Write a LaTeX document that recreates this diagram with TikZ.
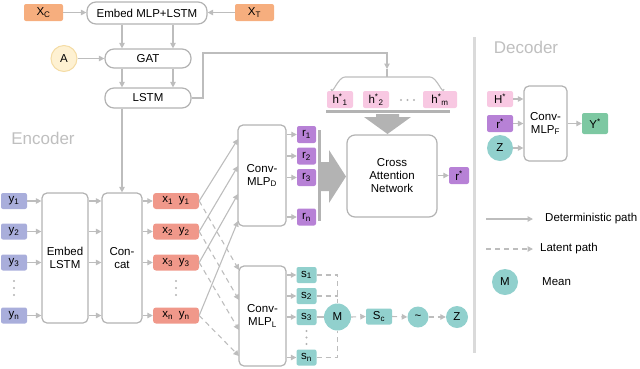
\documentclass[tikz,border=0pt]{standalone}
\usepackage{fontspec}
\setmainfont{Liberation Sans}
\usetikzlibrary{arrows.meta,calc}
\definecolor{lgray}{HTML}{BDBDBD}
\definecolor{bgray}{HTML}{B3B3B3}
\definecolor{sepgray}{HTML}{DADADA}
\definecolor{labgray}{HTML}{BFBFBF}
\definecolor{corange}{HTML}{F6AE7E}
\definecolor{cyellow}{HTML}{FEF1D2}
\definecolor{cyellowb}{HTML}{F4DCA5}
\definecolor{clav}{HTML}{A9AEDB}
\definecolor{csalmon}{HTML}{F0988A}
\definecolor{cpurple}{HTML}{B781D6}
\definecolor{cpink}{HTML}{F8C8E2}
\definecolor{cteal}{HTML}{91D0CD}
\definecolor{cgreen}{HTML}{7DC8A2}
\newcommand\sbs[1]{\textsubscript{#1}}
\newcommand\sps[1]{\textsuperscript{#1}}
\begin{document}
\begin{tikzpicture}[x=1pt,y=-1pt,
  font=\fontsize{11.5}{13}\selectfont,
  arr/.style={draw=lgray, line width=1.1pt, -{Triangle[length=5.5pt,width=5.5pt]}},
  darr/.style={arr, dash pattern=on 5pt off 4pt},
  plainline/.style={draw=lgray, line width=1.1pt},
  dline/.style={plainline, dash pattern=on 5pt off 4pt},
  plainbox/.style={draw=bgray, fill=white, line width=1.2pt, rounded corners=5pt, inner sep=0pt, align=center},
  pill/.style={plainbox, rounded corners=9pt},
  cbox/.style={rounded corners=2pt, inner sep=0pt, minimum height=16pt},
  circ/.style={circle, inner sep=0pt},
  region/.style={text=labgray, font=\fontsize{17}{19}\selectfont},
  bigarrow/.style={fill=bgray},
  dotc/.style={fill=bgray}
]
\useasboundingbox (0,0) rectangle (640,368);

% ---------- top stack ----------
\node[cbox, fill=corange, minimum width=39pt, minimum height=17pt] (xc) at (43.5,12.5) {X\sbs{C}};
\node[pill, minimum width=120pt, minimum height=22pt] (embml) at (147,13) {Embed MLP+LSTM};
\node[cbox, fill=corange, minimum width=39pt, minimum height=17pt] (xt) at (254.5,12.5) {X\sbs{T}};
\node[circ, fill=cyellow, draw=cyellowb, line width=1pt, minimum size=26pt] (a) at (64,58.5) {A};
\node[pill, minimum width=86pt, minimum height=19pt] (gat) at (148,58.5) {GAT};
\node[pill, minimum width=86pt, minimum height=20pt] (lstm) at (148,98) {LSTM};

\coordinate (c1) at (122,0);
\coordinate (c2) at (173,0);
\draw[arr] (xc.east) -- (xc.east -| embml.west);
\draw[arr] (xt.west) -- (xt.west -| embml.east);
\draw[arr] (embml.south -| c1) -- (gat.north -| c1);
\draw[arr] (embml.south -| c2) -- (gat.north -| c2);
\draw[arr] (a.east) -- (gat.west);
\draw[arr] (gat.south -| c1) -- (lstm.north -| c1);
\draw[arr] (gat.south -| c2) -- (lstm.north -| c2);

% ---------- labels ----------
\node[region] (enc) at (43,138.5) {Encoder};
\node[region] (dec) at (526,47) {Decoder};

% ---------- encoder left ----------
\node[cbox, fill=clav, minimum width=26pt] (y1) at (14,201) {y\sbs{1}};
\node[cbox, fill=clav, minimum width=26pt] (y2) at (14,231.5) {y\sbs{2}};
\node[cbox, fill=clav, minimum width=26pt] (y3) at (14,262.5) {y\sbs{3}};
\node[cbox, fill=clav, minimum width=26pt] (yn) at (14,315.5) {y\sbs{n}};
\node[plainbox, minimum width=46pt, minimum height=130pt] (elstm) at (65,258) {Embed\\LSTM};
\node[plainbox, minimum width=40pt, minimum height=130pt] (cat) at (122,258) {Con-\\cat};
\node[cbox, fill=csalmon, minimum width=46pt, rounded corners=3pt] (xy1) at (176,201) {x\sbs{1}\enspace y\sbs{1}};
\node[cbox, fill=csalmon, minimum width=46pt, rounded corners=3pt] (xy2) at (176,231.5) {x\sbs{2}\enspace y\sbs{2}};
\node[cbox, fill=csalmon, minimum width=46pt, rounded corners=3pt] (xy3) at (176,262.5) {x\sbs{3}\enspace y\sbs{3}};
\node[cbox, fill=csalmon, minimum width=46pt, rounded corners=3pt] (xyn) at (176,315.5) {x\sbs{n}\enspace y\sbs{n}};
\foreach \yy in {281,288,295} {
  \fill[dotc] (14,\yy) circle (1.1);
  \fill[dotc] (176,\yy) circle (1.1);
}
\foreach \n in {1,2,3,n} {
  \draw[arr] (y\n.east) -- (y\n.east -| elstm.west);
  \draw[arr] (y\n.east -| elstm.east) -- (y\n.east -| cat.west);
  \draw[arr] (y\n.east -| cat.east) -- (xy\n.west);
}
\draw[arr] (lstm.south -| c1) -- (cat.north -| c1);

% ---------- Conv-MLP D / L ----------
\node[plainbox, minimum width=48pt, minimum height=101pt] (cd) at (262,175.5) {Conv-\\MLP\sbs{D}};
\node[plainbox, minimum width=47pt, minimum height=100pt] (cl) at (262.5,316) {Conv-\\MLP\sbs{L}};
\coordinate (d1) at (238,139);
\coordinate (d2) at (238,166);
\coordinate (d3) at (238,194);
\coordinate (d4) at (238,221);
\coordinate (l1) at (239,270);
\coordinate (l2) at (239,300);
\coordinate (l3) at (239,330);
\coordinate (l4) at (239,356);
\draw[arr] (xy1.east) -- (d1);
\draw[arr] (xy2.east) -- (d2);
\draw[arr] (xy3.east) -- (d3);
\draw[arr] (xyn.east) -- (d4);
\draw[darr] (xy1.east) -- (l1);
\draw[darr] (xy2.east) -- (l2);
\draw[darr] (xy3.east) -- (l3);
\draw[darr] (xyn.east) -- (l4);

% r boxes
\node[cbox, fill=cpurple, minimum width=19pt, minimum height=17pt] (r1) at (306.5,134.5) {r\sbs{1}};
\node[cbox, fill=cpurple, minimum width=19pt, minimum height=17pt] (r2) at (306.5,156) {r\sbs{2}};
\node[cbox, fill=cpurple, minimum width=19pt, minimum height=17pt] (r3) at (306.5,177.5) {r\sbs{3}};
\node[cbox, fill=cpurple, minimum width=19pt, minimum height=17pt] (rn) at (306.5,217) {r\sbs{n}};
\foreach \n in {1,2,3,n} {
  \draw[arr] (r\n.west -| cd.east) -- (r\n.west);
}
\draw[bgray, line width=3pt] (319.5,130) -- (319.5,221);
\fill[bigarrow] (321,162) -- (329,162) -- (329,150) -- (346,176.5) -- (329,203) -- (329,191) -- (321,191) -- cycle;

% s boxes
\node[cbox, fill=cteal, minimum width=20pt] (s1) at (306.5,275) {s\sbs{1}};
\node[cbox, fill=cteal, minimum width=20pt] (s2) at (306.5,296) {s\sbs{2}};
\node[cbox, fill=cteal, minimum width=20pt] (s3) at (306.5,317) {s\sbs{3}};
\node[cbox, fill=cteal, minimum width=20pt] (sn) at (306.5,357.5) {s\sbs{n}};
\foreach \yy in {331,337.5,344} { \fill[dotc] (306.5,\yy) circle (1.1); }
\foreach \n in {1,2,3,n} {
  \draw[arr] (s\n.west -| cl.east) -- (s\n.west);
}
\node[circ, fill=cteal, minimum size=27pt] (m) at (337.5,317) {M};
\draw[dline] (s1.east) -- (s1.east -| m) -- (m.north);
\draw[dline] (s2.east) -- (s2.east -| m);
\draw[dline] (sn.east) -- (sn.east -| m) -- (m.south);
\draw[plainline] (s3.east) -- (m.west);
\node[cbox, fill=cteal, minimum width=26pt] (sc) at (379,316.5) {S\sbs{c}};
\node[circ, fill=cteal, minimum size=21pt] (tl) at (418,317) {\textasciitilde};
\node[circ, fill=cteal, minimum size=22pt] (z) at (457,317) {Z};
\draw[darr] (m.east) -- (sc.west);
\draw[darr] (sc.east) -- (tl.west);
\draw[darr] (tl.east) -- (z.west);

% ---------- h* and cross attention ----------
\node[cbox, fill=cpink, minimum width=26pt, minimum height=17pt] (h1) at (340,99.5) {h\sps{*}\sbs{1}};
\node[cbox, fill=cpink, minimum width=26pt, minimum height=17pt] (h2) at (376,99.5) {h\sps{*}\sbs{2}};
\node[cbox, fill=cpink, minimum width=34pt, minimum height=17pt] (hm) at (440,99.5) {h\sps{*}\sbs{m}};
\foreach \xx in {401,407.5,414} { \fill[dotc] (\xx,100) circle (1.1); }
\coordinate (bend1) at (203,53);
\coordinate (hb) at (387,69);
\draw[arr] (lstm.east) -- (lstm.east -| bend1) -- (bend1) -- (bend1 -| hb) -- (hb);
\draw[plainline] (331,89) to[out=-80,in=180] (345,77) -- (430,77) to[out=0,in=-100] (444,89);
\draw[plainline] (387,69) -- (387,77);
\draw[bgray, line width=3.5pt] (326,111.5) -- (450,111.5);
\fill[bigarrow] (376,114) -- (399,114) -- (399,117) -- (411,117) -- (387.5,134) -- (364,117) -- (376,117) -- cycle;
\node[plainbox, rounded corners=8pt, minimum width=90pt, minimum height=82pt] (cross) at (392,176) {Cross\\Attention\\Network};
\node[cbox, fill=cpurple, minimum width=20pt, minimum height=17pt] (rs) at (459,175.5) {r\sps{*}};
\draw[arr] (cross.east |- rs) -- (rs.west);

% ---------- separator ----------
\draw[sepgray, line width=3pt] (474,37) -- (474,353);

% ---------- decoder ----------
\node[cbox, fill=cpink, minimum width=26pt] (hs) at (500,99) {H\sps{*}};
\node[cbox, fill=cpurple, minimum width=26pt, minimum height=17pt] (rs2) at (500,123.5) {r\sps{*}};
\node[circ, fill=cteal, minimum size=26pt] (z2) at (500,148) {Z};
\node[plainbox, minimum width=43pt, minimum height=75pt] (cf) at (545.5,123.5) {Conv-\\MLP\sbs{F}};
\node[cbox, fill=cgreen, minimum width=26pt, minimum height=21pt] (ys) at (595,123.5) {Y\sps{*}};
\draw[arr] (hs.east) -- (hs.east -| cf.west);
\draw[arr] (rs2.east) -- (rs2.east -| cf.west);
\draw[arr] (z2.east) -- (z2.east -| cf.west);
\draw[arr] (cf.east |- ys) -- (ys.west);

% ---------- legend ----------
\coordinate (lga) at (486,219);
\coordinate (lgb) at (533,219);
\coordinate (lgc) at (486,249);
\coordinate (lgd) at (533,249);
\draw[arr] (lga) -- (lgb);
\node[anchor=west, inner sep=0pt] (lt1) at (545,219) {Deterministic path};
\draw[darr] (lgc) -- (lgd);
\node[anchor=west, inner sep=0pt] (lt2) at (540,249) {Latent path};
\node[circ, fill=cteal, minimum size=26pt] (lm) at (505,282) {M};
\node[anchor=west, inner sep=0pt] (lt3) at (542,282) {Mean};
\end{tikzpicture}
\end{document}
